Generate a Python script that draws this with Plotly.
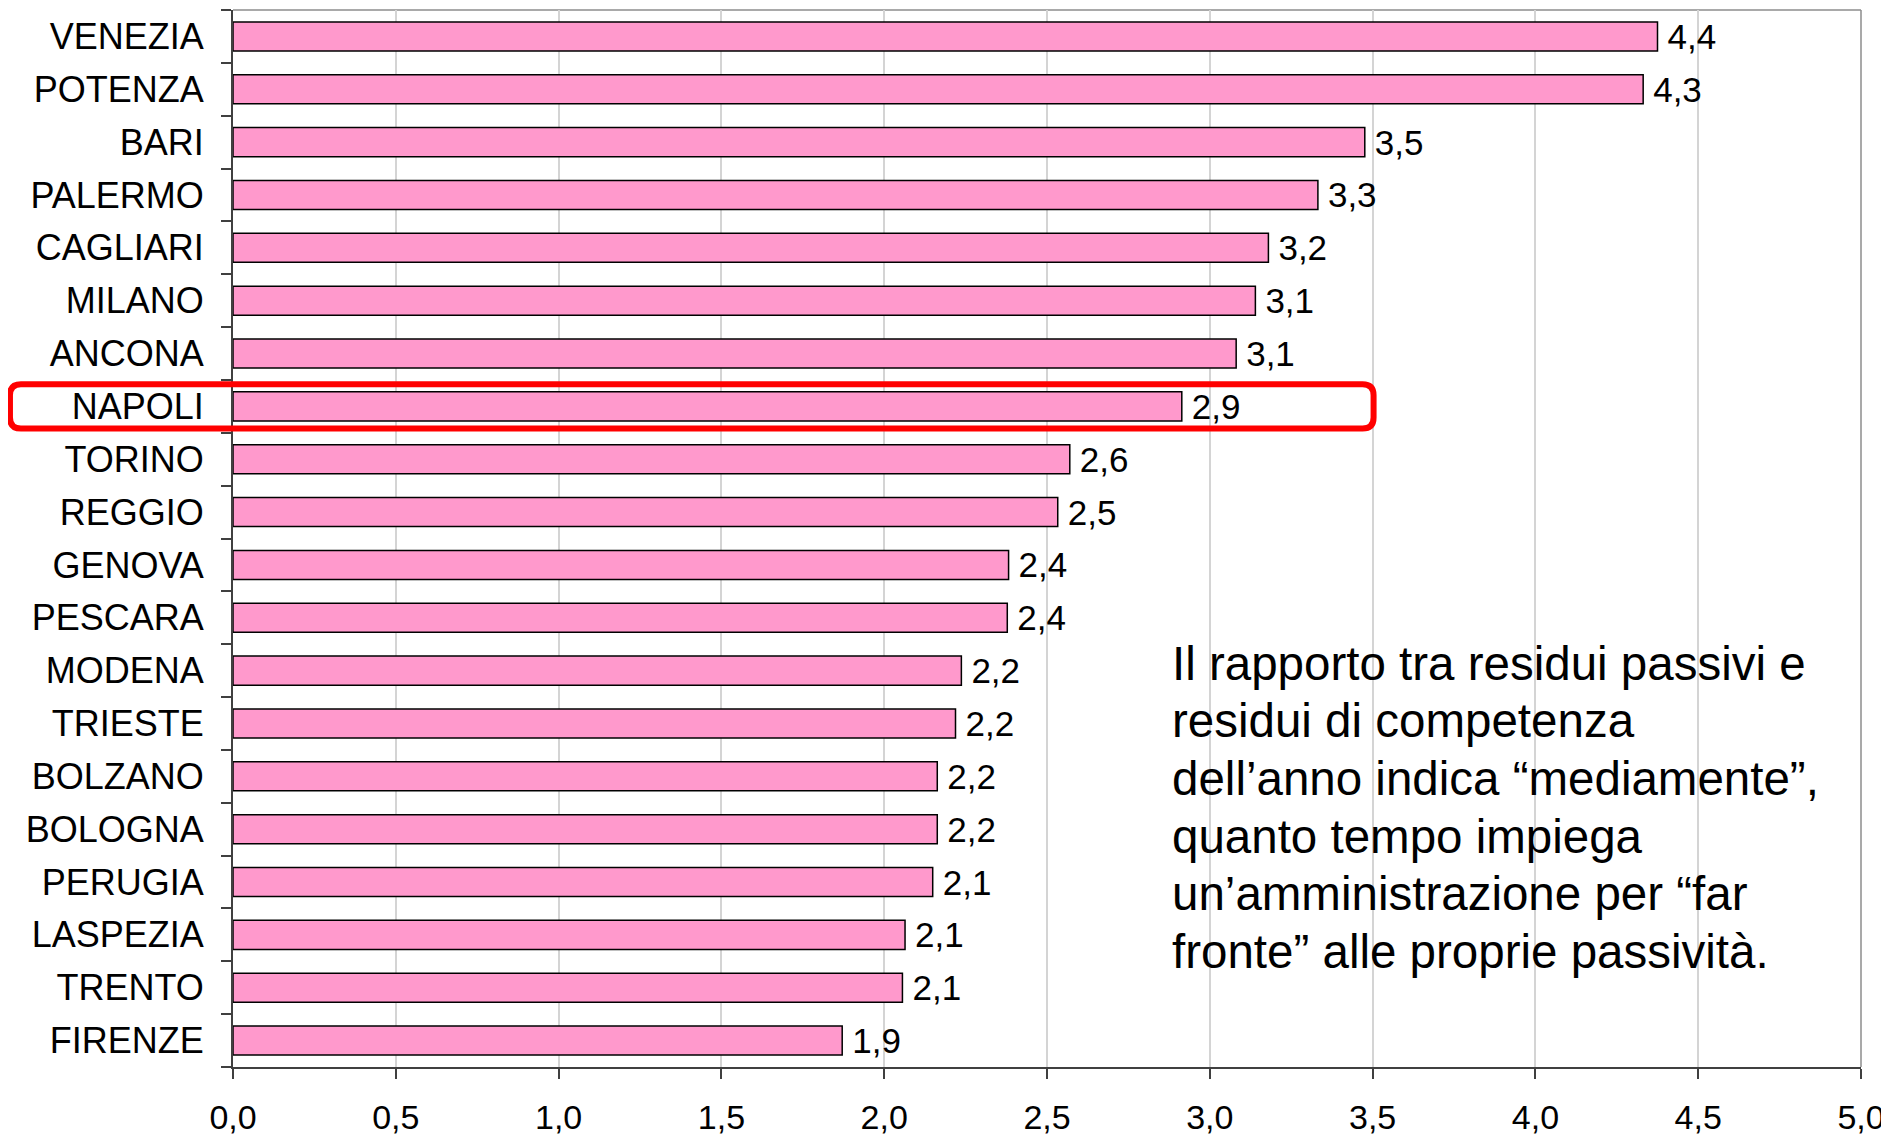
import plotly.graph_objects as go

cities = ["VENEZIA", "POTENZA", "BARI", "PALERMO", "CAGLIARI", "MILANO", "ANCONA",
          "NAPOLI", "TORINO", "REGGIO", "GENOVA", "PESCARA", "MODENA", "TRIESTE",
          "BOLZANO", "BOLOGNA", "PERUGIA", "LASPEZIA", "TRENTO", "FIRENZE"]
values = [4.375, 4.331, 3.476, 3.332, 3.180, 3.140, 3.081,
          2.914, 2.570, 2.533, 2.382, 2.378, 2.237, 2.219,
          2.163, 2.163, 2.149, 2.064, 2.056, 1.871]
x_ticks = [0, 0.5, 1, 1.5, 2, 2.5, 3, 3.5, 4, 4.5, 5]
x_range = [0, 5]
highlight = "NAPOLI"
note_lines = ["Il rapporto tra residui passivi e",
              "residui di competenza",
              "dell’anno indica “mediamente”,",
              "quanto tempo impiega",
              "un’amministrazione per “far",
              "fronte” alle proprie passività."]

# page body has an 8px default margin: the figure is drawn at (8, 8)
OFF = 8
W, H = 1889 - OFF, 1138 - OFF
ML, MR, MT, MB = 233 - OFF, 28, 10 - OFF, 71
PW, PH = W - ML - MR, H - MT - MB

pos = list(range(len(cities)))
n = len(cities)
FONT = "Arial, Liberation Sans, sans-serif"

fig = go.Figure(go.Bar(
    x=values, y=pos, orientation="h",
    marker=dict(color="#FF99CC", line=dict(color="#000000", width=1.5)),
    text=values, texttemplate="\u2009%{x:.1f}", textposition="outside",
    constraintext="none",
    textfont=dict(family=FONT, size=35, color="#000000"),
    cliponaxis=False, width=0.55,
))

# rounded highlight box around the highlighted row (paper coordinates from row index)
hi = cities.index(highlight)
span = x_range[1] - x_range[0]
x0 = -0.137
x1 = (3.503 - x_range[0]) / span
y_top = 1 - (hi + 0.5 - 0.42) / n
y_bot = 1 - (hi + 0.5 + 0.42) / n
rx, ry = 11 / PW, 11 / PH
path = (f"M {x0+rx},{y_top} L {x1-rx},{y_top} Q {x1},{y_top} {x1},{y_top-ry} "
        f"L {x1},{y_bot+ry} Q {x1},{y_bot} {x1-rx},{y_bot} "
        f"L {x0+rx},{y_bot} Q {x0},{y_bot} {x0},{y_bot+ry} "
        f"L {x0},{y_top-ry} Q {x0},{y_top} {x0+rx},{y_top} Z")
fig.add_shape(type="path", path=path, xref="paper", yref="paper",
              line=dict(color="#FF0000", width=6))

# top and right frame lines
fig.add_shape(type="line", xref="paper", yref="paper", x0=0, x1=1, y0=1, y1=1,
              line=dict(color="#8c8c8c", width=1.5), layer="below")
fig.add_shape(type="line", xref="paper", yref="paper", x0=1, x1=1, y0=0, y1=1,
              line=dict(color="#8c8c8c", width=1.5), layer="below")

line_step = 57.6 / PH
first_y = 0.382
for i, line in enumerate(note_lines):
    fig.add_annotation(text=line, xref="paper", yref="paper", x=0.5755,
                       y=first_y - i * line_step,
                       xanchor="left", yanchor="middle", align="left", showarrow=False,
                       font=dict(family=FONT, size=47.5, color="#000000"))

fig.update_layout(
    width=W, height=H,
    margin=dict(l=ML, r=MR, t=MT, b=MB, autoexpand=False),
    paper_bgcolor="white", plot_bgcolor="white",
    separators=",.",
    showlegend=False,
    xaxis=dict(range=x_range, tickvals=x_ticks, tickformat=".1f",
               showgrid=True, gridcolor="#d4d4d4", gridwidth=1.5,
               showline=True, linecolor="#404040", linewidth=2,
               ticks="outside", ticklen=10, tickwidth=2, tickcolor="#404040",
               ticklabelstandoff=9, automargin=False,
               tickfont=dict(family=FONT, size=34, color="#000000"),
               zeroline=False, fixedrange=True),
    yaxis=dict(range=[n - 0.5, -0.5], tickvals=pos, ticktext=cities,
               showgrid=False, zeroline=False,
               showline=True, linecolor="#404040", linewidth=2,
               ticks="", ticklabelstandoff=20, automargin=False,
               minor=dict(tick0=0.5, dtick=1, ticks="outside", ticklen=10,
                          tickwidth=2, tickcolor="#404040", showgrid=False),
               tickfont=dict(family=FONT, size=36, color="#000000"),
               fixedrange=True),
)

fig.write_html("out.html")
